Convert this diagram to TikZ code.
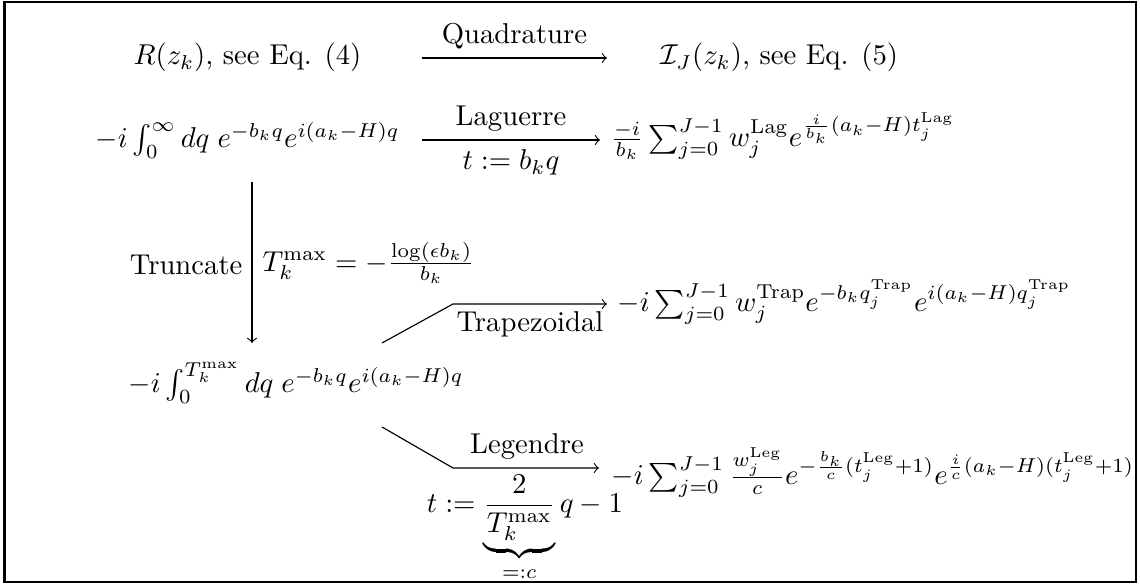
\documentclass[tikz,border=0pt]{standalone}
\usepackage{amsmath,amssymb}
\tikzset{
  lbl/.style={inner sep=0pt, anchor=base},
  expr/.style={inner sep=0pt, anchor=base west},
  arr/.style={->, line width=0.4pt},
}
\begin{document}
\begin{tikzpicture}[x=0.3484pt,y=-0.3484pt]
\useasboundingbox (0,0) rectangle (1140,585);
\draw[line width=1pt] (4.5,2) rectangle (1136,582);

% row 1
\node[expr] (R) at (133,65) {$R(z_k)$, see Eq. (4)};
\node[expr] (I) at (660,65) {$\mathcal{I}_J(z_k)$, see Eq. (5)};
\coordinate (q1) at (422,58); \coordinate (q2) at (607,58);
\draw[arr] (q1) -- (q2);
\node[lbl] (lq) at (514.5,44) {Quadrature};

% row 2
\node[expr] (A) at (95,148) {$-i\int_0^\infty dq\; e^{-b_kq}e^{i(a_k-H)q}$};
\node[expr] (Lag) at (610,147) {$\frac{-i}{b_k}\sum_{j=0}^{J-1} w_j^{\mathrm{Lag}} e^{\frac{i}{b_k}(a_k-H)t_j^{\mathrm{Lag}}}$};
\coordinate (l1) at (422,140); \coordinate (l2) at (600,140);
\draw[arr] (l1) -- (l2);
\node[lbl] (ll1) at (511,126) {Laguerre};
\node[lbl] (ll2) at (511,170) {$t:=b_kq$};

% truncate
\coordinate (v1) at (252,182); \coordinate (v2) at (252,343);
\draw[arr] (v1) -- (v2);
\node[anchor=east, inner sep=0pt] (tl) at (243,265) {Truncate};
\node[anchor=west, inner sep=0pt] (tr) at (262,263) {$T_k^{\max} = -\frac{\log(\epsilon b_k)}{b_k}$};

% row 3
\node[expr] (B) at (128,393) {$-i\int_0^{T_k^{\max}} dq\; e^{-b_kq}e^{i(a_k-H)q}$};

% trapezoidal
\coordinate (t0) at (382,343); \coordinate (t1) at (453,304); \coordinate (t2) at (607,304);
\draw[arr] (t0) -- (t1) -- (t2);
\node[lbl] (tlab) at (530,332) {Trapezoidal};
\node[expr] (Tr) at (617,312) {$-i\sum_{j=0}^{J-1} w_j^{\mathrm{Trap}} e^{-b_kq_j^{\mathrm{Trap}}} e^{i(a_k-H)q_j^{\mathrm{Trap}}}$};

% legendre
\coordinate (g0) at (382,427); \coordinate (g1) at (453,468); \coordinate (g2) at (599,468);
\draw[arr] (g0) -- (g1) -- (g2);
\node[lbl] (glab) at (527,454) {Legendre};
\node[lbl] (gsub) at (525,513) {$t := \underbrace{\frac{\textstyle 2}{\textstyle T_k^{\max}}}_{=:c} q - 1$};
\node[expr] (Lg) at (611,485) {$-i\sum_{j=0}^{J-1} \frac{w_j^{\mathrm{Leg}}}{c} e^{-\frac{b_k}{c}(t_j^{\mathrm{Leg}}+1)} e^{\frac{i}{c}(a_k-H)(t_j^{\mathrm{Leg}}+1)}$};
\end{tikzpicture}
\end{document}
